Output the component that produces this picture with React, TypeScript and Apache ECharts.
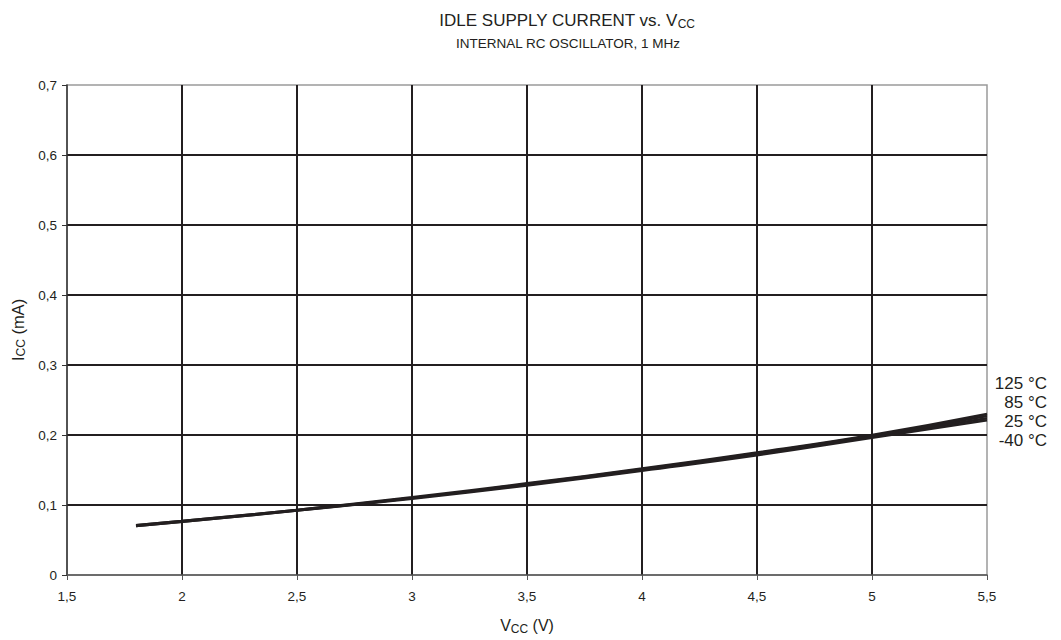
import React, { useEffect, useRef } from "react";
import * as echarts from "echarts";

const vcc = [1.8, 2, 2.5, 3, 3.5, 4, 4.5, 5, 5.5];
const i125 = [0.071, 0.077, 0.093, 0.111, 0.131, 0.152, 0.175, 0.2, 0.23];
const i85 = [0.071, 0.077, 0.093, 0.11, 0.13, 0.151, 0.174, 0.199, 0.227];
const i25 = [0.07, 0.076, 0.092, 0.11, 0.129, 0.15, 0.173, 0.198, 0.224];
const iM40 = [0.07, 0.076, 0.092, 0.109, 0.128, 0.149, 0.171, 0.196, 0.221];
const seriesNames = ["125 °C", "85 °C", "25 °C", "-40 °C"];
const seriesValues = [i125, i85, i25, iM40];

const FONT = "Liberation Sans, Arial, sans-serif";
const INK = "#231f20";

const rich = (size: number, sub: number, pad: number) => ({
  a: { fontSize: size, fontFamily: FONT, color: INK, fontWeight: "normal" },
  s: { fontSize: sub, fontFamily: FONT, color: INK, fontWeight: "normal", padding: [pad, 0, 0, 0] },
});

export default function App() {
  const ref = useRef<HTMLDivElement>(null);
  useEffect(() => {
    const chart = echarts.init(ref.current!, null, { renderer: "svg" });
    chart.setOption({
      animation: false,
      backgroundColor: "#fff",
      textStyle: { fontFamily: FONT, color: INK },
      title: [
        {
          text: "{a|IDLE SUPPLY CURRENT vs. V}{s|CC}",
          left: 562,
          top: 6,
          textAlign: "center",
          textStyle: { fontWeight: "normal", rich: rich(17, 12, 7) },
        },
        {
          text: "INTERNAL RC OSCILLATOR, 1 MHz",
          left: 563,
          top: 31,
          textAlign: "center",
          textStyle: { fontSize: 13.5, fontFamily: FONT, color: INK, fontWeight: "normal" },
        },
      ],
      grid: {
        left: 67,
        right: 74,
        top: 85,
        bottom: 60,
        show: true,
        borderColor: "#9a9a9a",
        borderWidth: 1.5,
      },
      xAxis: {
        type: "value",
        min: 1.5,
        max: 5.5,
        interval: 0.5,
        name: "{a|V}{s|CC}{a| (V)}",
        nameLocation: "middle",
        nameGap: 41,
        nameTextStyle: { rich: rich(16, 12, 7) },
        axisLine: { show: true, lineStyle: { color: "#555", width: 1.5 } },
        axisTick: { show: true, length: 5, lineStyle: { color: "#555" } },
        axisLabel: {
          fontSize: 13.5,
          color: INK,
          margin: 14,
          formatter: (v: number) => String(v).replace(".", ","),
        },
        splitLine: { show: true, showMinLine: false, showMaxLine: false, lineStyle: { color: INK, width: 2 } },
      },
      yAxis: {
        type: "value",
        min: 0,
        max: 0.7,
        interval: 0.1,
        name: "{a|I}{s|CC}{a| (mA)}",
        nameLocation: "middle",
        nameGap: 40,
        nameRotate: 90,
        nameTextStyle: { rich: rich(16.5, 12, 7) },
        axisLine: { show: true, lineStyle: { color: "#333", width: 1.5 } },
        axisTick: { show: true, length: 5, lineStyle: { color: "#333" } },
        axisLabel: {
          fontSize: 13.5,
          color: INK,
          margin: 10,
          formatter: (v: number) => (Math.round(v * 10) / 10).toString().replace(".", ","),
        },
        splitLine: { show: true, showMinLine: false, showMaxLine: false, lineStyle: { color: INK, width: 2 } },
      },
      series: seriesNames.map((name, k) => ({
        name,
        type: "line",
        showSymbol: false,
        smooth: true,
        lineStyle: { color: INK, width: 2.5 },
        data: vcc.map((v, i) => [v, seriesValues[k][i]]),
      })),
      graphic: seriesNames.map((name, k) => ({
        type: "text",
        x: 1047,
        y: 383 + k * 19,
        style: {
          text: name,
          font: `17px ${FONT}`,
          fill: INK,
          textAlign: "right",
          textVerticalAlign: "middle",
        },
      })),
    });
    return () => chart.dispose();
  }, []);
  return <div ref={ref} style={{ width: 1061, height: 640, position: "absolute", left: 0, top: 0 }} />;
}
